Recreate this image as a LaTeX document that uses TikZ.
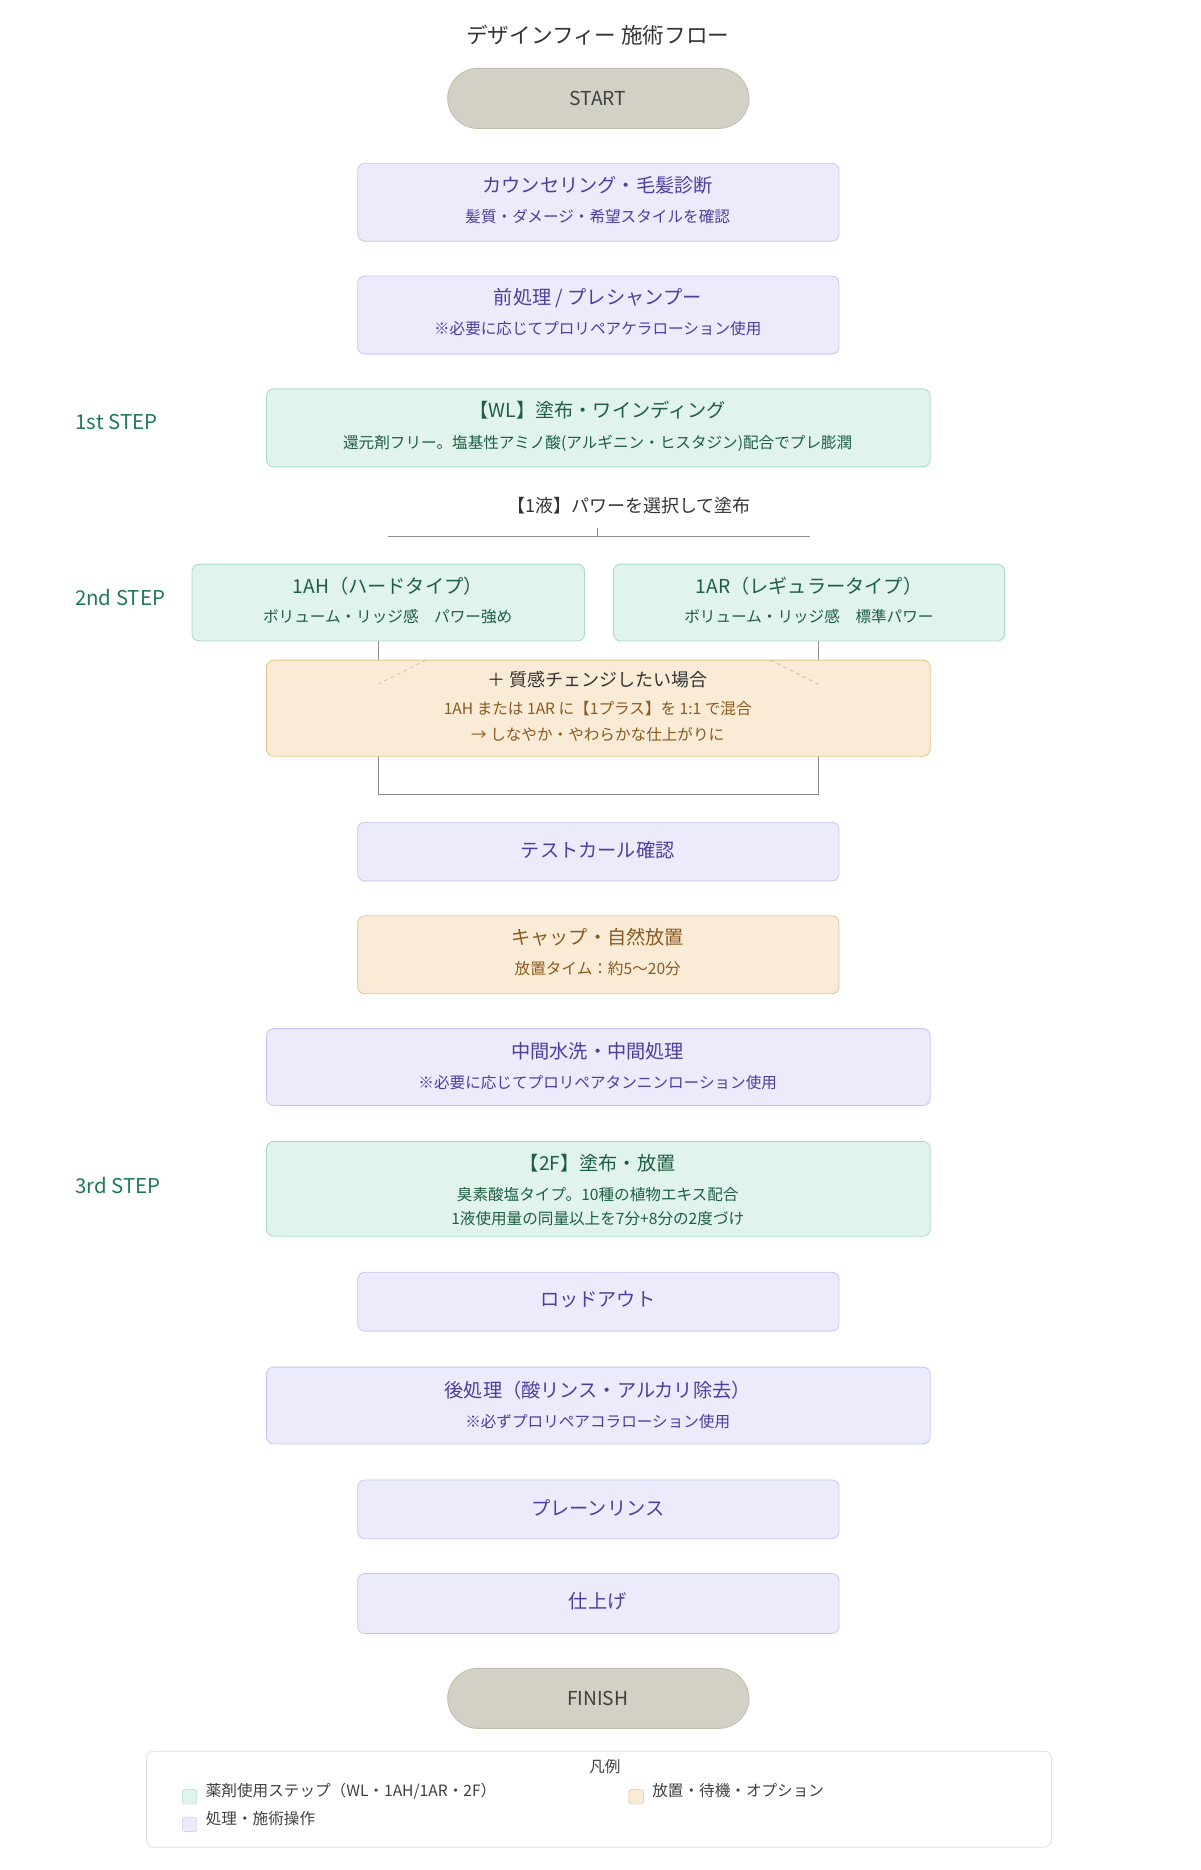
\documentclass[tikz,border=0pt]{standalone}
\usepackage{fontspec}
\setmainfont{Noto Sans CJK JP}
\begin{document}
\definecolor{pillF}{HTML}{D3D0C6}\definecolor{pillD}{HTML}{C2BDB0}
\definecolor{lavF}{HTML}{ECEBFC}\definecolor{lavD}{HTML}{C9C5F2}\definecolor{lavT}{HTML}{4A3F9E}
\definecolor{grnF}{HTML}{E0F3EC}\definecolor{grnD}{HTML}{A9DCC5}\definecolor{grnT}{HTML}{1E5E43}
\definecolor{orF}{HTML}{FAEBD7}\definecolor{orD}{HTML}{E6C28C}\definecolor{orT}{HTML}{8A5A1E}
\definecolor{stepT}{HTML}{1F7A55}
\begin{tikzpicture}[x=1pt,y=-1pt,
 box/.style={draw, rounded corners=6pt, line width=0.7pt},
 lav/.style={box, fill=lavF, draw=lavD, text=lavT},
 grn/.style={box, fill=grnF, draw=grnD, text=grnT},
 org/.style={box, fill=orF, draw=orD, text=orT},
 pill/.style={draw=pillD, fill=pillF, rounded corners=25pt, line width=0.7pt},
 ttl/.style={font=\fontsize{16}{19}\selectfont},
 sub/.style={font=\fontsize{13}{16}\selectfont},
 steplbl/.style={text=stepT, font=\fontsize{17}{20}\selectfont},
 conn/.style={draw=black!45, line width=0.9pt}]
\useasboundingbox (0,0) rectangle (1000,1558);
\node[font=\fontsize{18}{21}\selectfont, text=black!80] (title) at (498,29) {デザインフィー 施術フロー};
% START
\draw[pill] (373,57) rectangle (624,107);
\node[ttl, text=black!75] (start) at (498,82) {START};
% box1
\draw[lav] (298,136) rectangle (699,201);
\node[ttl,text=lavT] (b1) at (498,154) {カウンセリング・毛髪診断};
\node[sub,text=lavT] (b1s) at (498,180) {髪質・ダメージ・希望スタイルを確認};
\draw[lav] (298,230) rectangle (699,295);
\node[ttl,text=lavT] (b2) at (498,248) {前処理 / プレシャンプー};
\node[sub,text=lavT] (b2s) at (498,274) {※必要に応じてプロリペアケラローション使用};
% 1st
\node[steplbl] (s1) at (97,352) {1st STEP};
\draw[grn] (222,324) rectangle (775,389);
\node[ttl,text=grnT] (b3) at (498,342) {【WL】塗布・ワインディング};
\node[sub,text=grnT] (b3s) at (498,369) {還元剤フリー。塩基性アミノ酸(アルギニン・ヒスタジン)配合でプレ膨潤};
\node[font=\fontsize{15}{18}\selectfont, text=black!80] (liq) at (524,421) {【1液】パワーを選択して塗布};
\coordinate (hl) at (323,447); \coordinate (hr) at (675,447);
\coordinate (tk) at (498,440); \coordinate (tb) at (498,447);
\draw[conn] (hl) -- (hr); \draw[conn,line width=0.6pt] (tk) -- (tb);
% 2nd
\node[steplbl] (s2) at (100,498) {2nd STEP};
\draw[grn] (160,470) rectangle (487,534);
\node[ttl,text=grnT] (ah) at (323,488) {1AH（ハードタイプ）};
\node[sub,text=grnT] (ahs) at (323,514) {ボリューム・リッジ感\quad パワー強め};
\draw[grn] (511,470) rectangle (837,534);
\node[ttl,text=grnT] (ar) at (674,488) {1AR（レギュラータイプ）};
\node[sub,text=grnT] (ars) at (674,514) {ボリューム・リッジ感\quad 標準パワー};
\coordinate (ca) at (315,534); \coordinate (cb) at (315,662);
\coordinate (cc) at (682,662); \coordinate (cd) at (682,534);
\draw[conn] (ca) -- (cb) -- (cc) -- (cd);
\draw[org] (222,550) rectangle (775,630);
\draw[orD!80!black!70, dashed, line width=0.6pt] (355,550) -- (315,570) (642,550) -- (682,570);
\node[text=black!80,font=\fontsize{15}{18}\selectfont] (o1) at (498,566) {＋ 質感チェンジしたい場合};
\node[sub,text=orT] (o2) at (498,590) {1AH または 1AR に【1プラス】を 1:1 で混合};
\node[sub,text=orT] (o3) at (498,612) {→ しなやか・やわらかな仕上がりに};
% test curl
\draw[lav] (298,685) rectangle (699,734);
\node[ttl,text=lavT] (tc) at (498,708) {テストカール確認};
\draw[org] (298,763) rectangle (699,828);
\node[ttl,text=orT] (cap) at (498,781) {キャップ・自然放置};
\node[sub,text=orT] (caps) at (498,807) {放置タイム：約5〜20分};
\draw[lav] (222,857) rectangle (775,921);
\node[ttl,text=lavT] (mid) at (498,876) {中間水洗・中間処理};
\node[sub,text=lavT] (mids) at (498,902) {※必要に応じてプロリペアタンニンローション使用};
% 3rd
\node[steplbl] (s3) at (98,988) {3rd STEP};
\draw[grn] (222,951) rectangle (775,1030);
\node[ttl,text=grnT] (f2) at (498,969) {【2F】塗布・放置};
\node[sub,text=grnT] (f2a) at (498,995) {臭素酸塩タイプ。10種の植物エキス配合};
\node[sub,text=grnT] (f2b) at (498,1015) {1液使用量の同量以上を7分+8分の2度づけ};
\draw[lav] (298,1060) rectangle (699,1109);
\node[ttl,text=lavT] (ro) at (498,1083) {ロッドアウト};
\draw[lav] (222,1139) rectangle (775,1203);
\node[ttl,text=lavT] (post) at (498,1158) {後処理（酸リンス・アルカリ除去）};
\node[sub,text=lavT] (posts) at (498,1184) {※必ずプロリペアコラローション使用};
\draw[lav] (298,1233) rectangle (699,1282);
\node[ttl,text=lavT] (pr) at (498,1256) {プレーンリンス};
\draw[lav] (298,1311) rectangle (699,1361);
\node[ttl,text=lavT] (fin0) at (498,1334) {仕上げ};
\draw[pill] (373,1390) rectangle (624,1440);
\node[ttl, text=black!75] (finish) at (498,1415) {FINISH};
% legend
\draw[draw=black!12, fill=white, rounded corners=6pt, line width=0.7pt] (122,1459) rectangle (876,1539);
\node[sub,text=black!75] (lg) at (504,1472) {凡例};
\draw[fill=grnF,draw=grnD,rounded corners=2pt] (152,1491) rectangle (164,1503);
\draw[fill=lavF,draw=lavD,rounded corners=2pt] (152,1514) rectangle (164,1526);
\draw[fill=orF,draw=orD,rounded corners=2pt] (524,1491) rectangle (536,1503);
\node[sub,text=black!75,anchor=west] (l1) at (168,1492) {薬剤使用ステップ（WL・1AH/1AR・2F）};
\node[sub,text=black!75,anchor=west] (l2) at (168,1515) {処理・施術操作};
\node[sub,text=black!75,anchor=west] (l3) at (540,1492) {放置・待機・オプション};
\end{tikzpicture}
\end{document}
